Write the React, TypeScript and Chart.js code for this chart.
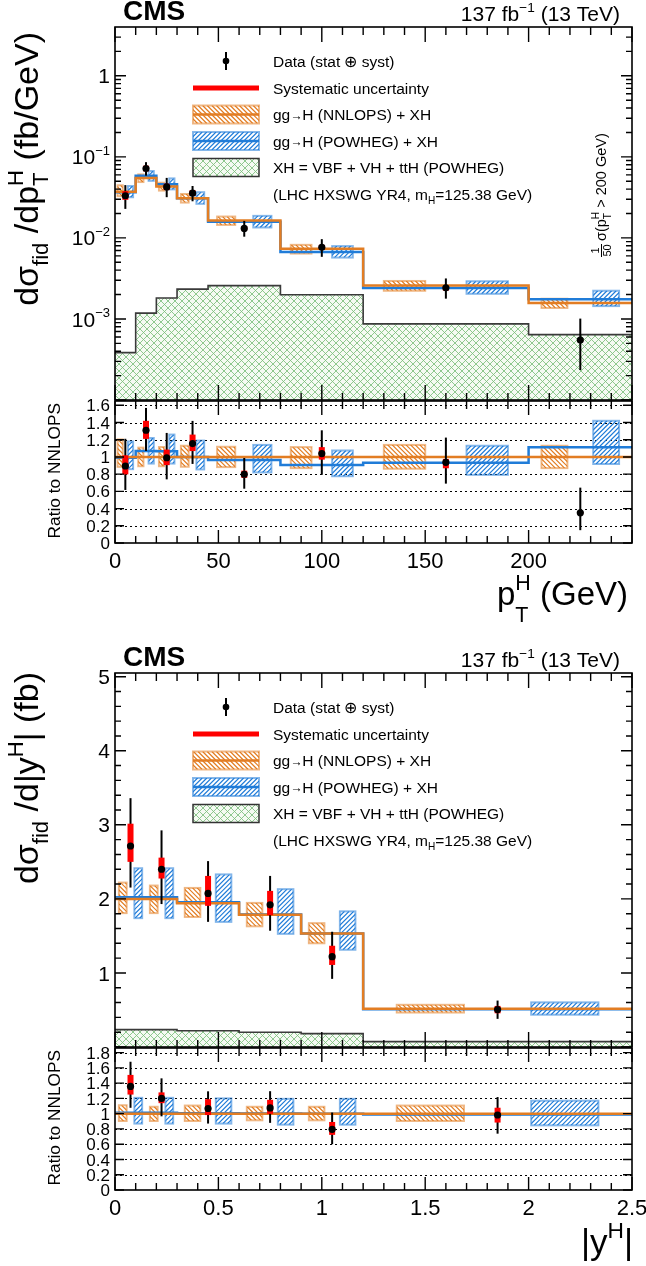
import React, { useEffect, useRef } from 'react';
import { Chart, registerables } from 'chart.js';

Chart.register(...registerables);

const FONT = '"Liberation Sans", Arial, Helvetica, sans-serif';
const ORANGE = 'rgb(226,125,35)';
const ORANGE_EDGE = 'rgba(226,125,35,0.55)';
const BLUE = 'rgb(32,124,216)';
const BLUE_EDGE = 'rgba(32,124,216,0.55)';
const RED = '#ff0000';

// ---------------- pT(H) distribution ----------------
const ptEdges = [0, 10, 20, 30, 45, 80, 120, 200, 250];
const ptCenters = [5, 15, 25, 37.5, 62.5, 100, 160, 225];
const ptNnlops = [0.037, 0.0548, 0.043, 0.0308, 0.0164, 0.00737, 0.00258, 0.00157];
const ptPowhegRatio = [0.99, 1.07, 1.067, 1.0, 0.965, 0.906, 0.933, 1.114];
const ptXH = [0.000384, 0.00118, 0.00181, 0.00233, 0.00258, 0.00199, 0.00087, 0.00064];
const ptData = [0.0331, 0.0718, 0.0426, 0.0356, 0.0131, 0.00766, 0.00242, 0.00055];
const ptTotLo = [0.0228, 0.0586, 0.0318, 0.0283, 0.01035, 0.00584, 0.00178, 0.000234];
const ptTotHi = [0.0448, 0.086, 0.055, 0.0437, 0.0162, 0.00965, 0.00316, 0.00101];
const ptSysLo = [0.0295, 0.0663, 0.0389, 0.0329, 0.01241, 0.00714, 0.00224, 0.000534];
const ptSysHi = [0.0377, 0.0778, 0.0467, 0.0388, 0.01378, 0.00821, 0.00252, 0.000565];
// theory uncertainty boxes, as ratio to NNLOPS
const ptNnlopsUncLo = [0.885, 0.892, 0.892, 0.886, 0.882, 0.87, 0.863, 0.87];
const ptNnlopsUncHi = [1.204, 1.108, 1.115, 1.13, 1.118, 1.114, 1.14, 1.13];
const ptPowhegUncLo = [0.858, 0.923, 0.923, 0.855, 0.82, 0.776, 0.792, 0.918];
const ptPowhegUncHi = [1.18, 1.22, 1.26, 1.19, 1.14, 1.075, 1.13, 1.42];

// ---------------- |y(H)| distribution ----------------
const yEdges = [0, 0.15, 0.3, 0.6, 0.9, 1.2, 2.5];
const yCenters = [0.075, 0.225, 0.45, 0.75, 1.05, 1.85];
const yNnlops = [2.0, 2.0, 1.942, 1.785, 1.534, 0.515];
const yPowhegRatio = [1.011, 1.011, 1.006, 1.003, 1.0, 0.988];
const yXH = [0.235, 0.235, 0.22, 0.2, 0.18, 0.072];
const yData = [2.714, 2.4, 2.073, 1.92, 1.22, 0.506];
const yTotLo = [2.153, 1.93, 1.69, 1.57, 0.92, 0.38];
const yTotHi = [3.36, 2.925, 2.51, 2.31, 1.556, 0.627];
const ySysLo = [2.5, 2.275, 1.906, 1.78, 1.108, 0.455];
const ySysHi = [3.015, 2.557, 2.31, 2.108, 1.367, 0.555];
const yNnlopsUncLo = [0.904, 0.904, 0.904, 0.913, 0.913, 0.904];
const yNnlopsUncHi = [1.11, 1.09, 1.106, 1.09, 1.09, 1.106];
const yPowhegUncLo = [0.87, 0.87, 0.87, 0.856, 0.856, 0.847];
const yPowhegUncHi = [1.207, 1.207, 1.2, 1.194, 1.194, 1.17];

// ---------------- tick labels ----------------
const ptXTickValues = [0, 50, 100, 150, 200];
const ptXTickLabels = ['0', '50', '100', '150', '200'];
const ptMainTickValues = [1e-3, 1e-2, 1e-1, 1];
const ptMainTickLabels = ['10^{-3}', '10^{-2}', '10^{-1}', '1'];
const ptRatioTickValues = [0, 0.2, 0.4, 0.6, 0.8, 1, 1.2, 1.4, 1.6];
const ptRatioTickLabels = ['0', '0.2', '0.4', '0.6', '0.8', '1', '1.2', '1.4', '1.6'];
const yXTickValues = [0, 0.5, 1, 1.5, 2, 2.5];
const yXTickLabels = ['0', '0.5', '1', '1.5', '2', '2.5'];
const yMainTickValues = [1, 2, 3, 4, 5];
const yMainTickLabels = ['1', '2', '3', '4', '5'];
const yRatioTickValues = [0, 0.2, 0.4, 0.6, 0.8, 1, 1.2, 1.4, 1.6, 1.8];
const yRatioTickLabels = ['0', '0.2', '0.4', '0.6', '0.8', '1', '1.2', '1.4', '1.6', '1.8'];

// ---------------- texts ----------------
const legendLabels = [
  'Data (stat ⊕ syst)',
  'Systematic uncertainty',
  'gg→H (NNLOPS) + XH',
  'gg→H (POWHEG) + XH',
  'XH = VBF + VH + ttH (POWHEG)',
  '(LHC HXSWG YR4, m_{H}=125.38 GeV)',
];
const cmsText = 'CMS';
const lumiText = '137 fb^{-1} (13 TeV)';
const ptYTitle = 'dσ_{fid} /dp^{H}_{T} (fb/GeV)';
const ptXTitle = 'p^{H}_{T} (GeV)';
const yYTitle = 'dσ_{fid} /d|y^{H}| (fb)';
const yXTitle = '|y^{H}|';
const ratioTitle = 'Ratio to NNLOPS';
const annotNum = '1';
const annotDen = '50';
const annotText = 'σ(p^{H}_{T} > 200 GeV)';

// ---------------- helpers ----------------
type Seg = { t: string; f?: number; dy?: number; b?: boolean; keep?: boolean };

function splitArrows(segs: Seg[]): Seg[] {
  const out: Seg[] = [];
  segs.forEach((s) => {
    if (!s.t.includes('→')) { out.push(s); return; }
    const parts = s.t.split('→');
    parts.forEach((pt, k) => {
      if (pt) out.push({ ...s, t: pt, keep: false });
      if (k < parts.length - 1) out.push({ ...s, t: '→', f: (s.f ?? 1) * 0.78, dy: (s.dy ?? 0) - 0.03, keep: false });
    });
  });
  return out;
}

function tex(s: string, subDy = 0.3, supDy = -0.45, f = 0.65, bold = false): Seg[] {
  const out: Seg[] = [];
  let i = 0;
  let buf = '';
  while (i < s.length) {
    const ch = s[i];
    if ((ch === '^' || ch === '_') && s[i + 1] === '{') {
      if (buf) { out.push({ t: buf, b: bold }); buf = ''; }
      const j = s.indexOf('}', i);
      const t = s.slice(i + 2, j).replace('-', '−');
      const seg: Seg = { t, f, dy: ch === '^' ? supDy : subDy, b: bold };
      const nxt = s[j + 1];
      if ((nxt === '^' || nxt === '_') && s[j + 2] === '{') seg.keep = true;
      out.push(seg);
      i = j + 1;
    } else {
      buf += ch;
      i++;
    }
  }
  if (buf) out.push({ t: buf, b: bold });
  return splitArrows(out);
}

function rich(ctx: CanvasRenderingContext2D, segs: Seg[], x: number, y: number, size: number,
  align: 'left' | 'right' | 'center' = 'left', rot = 0) {
  ctx.save();
  ctx.translate(x, y);
  if (rot) ctx.rotate(rot);
  ctx.textAlign = 'left';
  ctx.textBaseline = 'alphabetic';
  ctx.fillStyle = '#000';
  const fonts = segs.map((s) => `${s.b ? 'bold ' : ''}${(s.f ?? 1) * size}px ${FONT}`);
  const widths = segs.map((s, i) => { ctx.font = fonts[i]; return ctx.measureText(s.t).width; });
  const adv: number[] = [];
  let pending = 0;
  segs.forEach((s, i) => {
    if (s.keep) { adv.push(0); pending = widths[i]; } else { adv.push(Math.max(widths[i], pending)); pending = 0; }
  });
  const total = adv.reduce((a, b) => a + b, 0);
  let cx = align === 'left' ? 0 : align === 'right' ? -total : -total / 2;
  segs.forEach((s, i) => {
    ctx.font = fonts[i];
    ctx.fillText(s.t, cx, (s.dy ?? 0) * size);
    cx += adv[i];
  });
  ctx.restore();
}

function range(a: number, b: number, step: number) {
  const out: number[] = [];
  const n = Math.round((b - a) / step);
  for (let i = 0; i <= n; i++) out.push(+(a + i * step).toFixed(6));
  return out;
}

function logMinor(lo: number, hi: number) {
  const out: number[] = [];
  for (let e = Math.floor(Math.log10(lo)); e <= Math.ceil(Math.log10(hi)); e++) {
    for (let k = 2; k <= 9; k++) {
      const v = k * Math.pow(10, e);
      if (v > lo && v < hi) out.push(v);
    }
  }
  return out;
}

function hist(edges: number[], vals: number[]) {
  const pts = vals.map((v, i) => ({ x: edges[i], y: v }));
  pts.push({ x: edges[edges.length - 1], y: vals[vals.length - 1] });
  return pts;
}

function hatchBox(ctx: CanvasRenderingContext2D, x0: number, x1: number, y0: number, y1: number,
  color: string, edge: string, dir: number) {
  const h = y1 - y0;
  ctx.save();
  ctx.beginPath();
  ctx.rect(x0, y0, x1 - x0, h);
  ctx.clip();
  ctx.strokeStyle = color;
  ctx.lineWidth = 1.2;
  ctx.beginPath();
  const step = 4.6;
  for (let s = x0 - h - step; s < x1 + step; s += step) {
    if (dir > 0) { ctx.moveTo(s, y1); ctx.lineTo(s + h, y0); } else { ctx.moveTo(s, y0); ctx.lineTo(s + h, y1); }
  }
  ctx.stroke();
  ctx.restore();
  ctx.save();
  ctx.strokeStyle = edge;
  ctx.lineWidth = 2;
  ctx.strokeRect(x0, y0, x1 - x0, h);
  ctx.restore();
}

function makeCross(size = 7): CanvasPattern | string {
  const c = document.createElement('canvas');
  c.width = size; c.height = size;
  const g = c.getContext('2d');
  if (!g) return 'rgba(150,200,150,0.4)';
  g.fillStyle = '#f5faf3';
  g.fillRect(0, 0, size, size);
  g.strokeStyle = 'rgba(125,190,125,0.85)';
  g.lineWidth = 1;
  g.beginPath();
  g.moveTo(0, 0); g.lineTo(size, size);
  g.moveTo(size, 0); g.lineTo(0, size);
  g.stroke();
  return g.createPattern(c, 'repeat') || 'rgba(150,200,150,0.4)';
}

type Ticks = { major: number[]; minor: number[] };
type TickLen = { xBotMaj: number; xBotMin: number; xTopMaj: number; xTopMin: number; yMaj: number; yMin: number };
type Panel = {
  top: number; height: number;
  pad: { left: number; right: number; top: number; bottom: number };
  xMin: number; xMax: number; yMin: number; yMax: number; log: boolean;
  edges: number[]; centers: number[];
  base: number[]; nLo: number[]; nHi: number[]; pLo: number[]; pHi: number[];
  val: number[]; totLo: number[]; totHi: number[]; sysLo: number[]; sysHi: number[];
  nnlopsLine: number[]; powhegLine: number[]; xh?: number[];
  xt: Ticks; yt: Ticks; tl: TickLen; dotted?: number[];
  decorate: (ctx: CanvasRenderingContext2D, chart: any, cross: any) => void;
};

function drawLegend(ctx: CanvasRenderingContext2D, a: any, cross: any) {
  const offs = [34, 61, 87.5, 114, 140.5, 167];
  const ys = offs.map((o) => a.top + o);
  const x0 = 193, x1 = 259, xm = 226, xt = 273;
  ctx.save();
  ctx.strokeStyle = '#000';
  ctx.lineWidth = 2;
  ctx.beginPath(); ctx.moveTo(xm, ys[0] - 9); ctx.lineTo(xm, ys[0] + 9); ctx.stroke();
  ctx.fillStyle = '#000';
  ctx.beginPath(); ctx.arc(xm, ys[0], 3.3, 0, Math.PI * 2); ctx.fill();
  ctx.fillStyle = RED;
  ctx.fillRect(x0, ys[1] - 2.5, x1 - x0, 5);
  hatchBox(ctx, x0, x1, ys[2] - 9, ys[2] + 9, ORANGE, ORANGE_EDGE, -1);
  ctx.strokeStyle = ORANGE; ctx.lineWidth = 2.5;
  ctx.beginPath(); ctx.moveTo(x0, ys[2]); ctx.lineTo(x1, ys[2]); ctx.stroke();
  hatchBox(ctx, x0, x1, ys[3] - 9, ys[3] + 9, BLUE, BLUE_EDGE, 1);
  ctx.strokeStyle = BLUE; ctx.lineWidth = 2.5;
  ctx.beginPath(); ctx.moveTo(x0, ys[3]); ctx.lineTo(x1, ys[3]); ctx.stroke();
  ctx.fillStyle = cross;
  ctx.fillRect(x0, ys[4] - 9, x1 - x0, 18);
  ctx.strokeStyle = '#333'; ctx.lineWidth = 1.5;
  ctx.strokeRect(x0, ys[4] - 9, x1 - x0, 18);
  ctx.restore();
  legendLabels.forEach((l, i) => rich(ctx, tex(l, 0.3), xt, ys[i] + 5.5, 15.5, 'left'));
}

function drawHeader(ctx: CanvasRenderingContext2D, a: any) {
  rich(ctx, [{ t: cmsText, b: true }], a.left + 8, a.top - 7, 28, 'left');
  rich(ctx, tex(lumiText, 0.3, -0.42, 0.65), a.right - 12, a.top - 6.5, 21, 'right');
}

function yLabels(ctx: CanvasRenderingContext2D, chart: any, vals: number[], labels: string[], size: number) {
  const a = chart.chartArea;
  const sy = chart.scales.y;
  vals.forEach((v, i) => {
    const py = sy.getPixelForValue(v);
    rich(ctx, tex(labels[i], 0.3, -0.45, 0.62), a.left - 5, py + size * 0.36, size, 'right');
  });
}

function xLabels(ctx: CanvasRenderingContext2D, chart: any, vals: number[], labels: string[], size: number) {
  const a = chart.chartArea;
  const sx = chart.scales.x;
  vals.forEach((v, i) => {
    rich(ctx, [{ t: labels[i] }], sx.getPixelForValue(v), a.bottom + 25, size, 'center');
  });
}

function panelPlugin(p: Panel, cross: any) {
  return {
    id: 'panelDeco',
    beforeDatasetsDraw(chart: any) {
      if (!p.dotted) return;
      const { ctx, chartArea: a, scales } = chart;
      ctx.save();
      ctx.strokeStyle = '#000';
      ctx.lineWidth = 1;
      ctx.setLineDash([2, 3]);
      for (const v of p.dotted) {
        const py = Math.round(scales.y.getPixelForValue(v)) + 0.5;
        ctx.beginPath(); ctx.moveTo(a.left, py); ctx.lineTo(a.right, py); ctx.stroke();
      }
      ctx.restore();
    },
    beforeDatasetDraw(chart: any, args: any) {
      const { ctx, chartArea: a, scales } = chart;
      const sx = scales.x, sy = scales.y;
      if (args.index === 2) {
        ctx.save();
        ctx.beginPath(); ctx.rect(a.left, a.top, a.right - a.left, a.bottom - a.top); ctx.clip();
        p.base.forEach((b, i) => {
          const e0 = p.edges[i];
          const w = p.edges[i + 1] - e0;
          hatchBox(ctx, sx.getPixelForValue(e0 + w * 0.125), sx.getPixelForValue(e0 + w * 0.375),
            sy.getPixelForValue(b * p.nHi[i]), sy.getPixelForValue(b * p.nLo[i]), ORANGE, ORANGE_EDGE, -1);
          hatchBox(ctx, sx.getPixelForValue(e0 + w * 0.625), sx.getPixelForValue(e0 + w * 0.875),
            sy.getPixelForValue(b * p.pHi[i]), sy.getPixelForValue(b * p.pLo[i]), BLUE, BLUE_EDGE, 1);
        });
        ctx.restore();
      }
      if (args.index === 0) {
        ctx.save();
        ctx.beginPath(); ctx.rect(a.left, a.top, a.right - a.left, a.bottom - a.top); ctx.clip();
        p.centers.forEach((c, i) => {
          const px = sx.getPixelForValue(c);
          ctx.strokeStyle = '#000';
          ctx.lineWidth = 2;
          ctx.beginPath();
          ctx.moveTo(px, sy.getPixelForValue(p.totLo[i]));
          ctx.lineTo(px, sy.getPixelForValue(p.totHi[i]));
          ctx.stroke();
          const y1 = sy.getPixelForValue(p.sysHi[i]);
          const y2 = sy.getPixelForValue(p.sysLo[i]);
          ctx.fillStyle = RED;
          ctx.fillRect(px - 3, y1, 6, Math.max(1, y2 - y1));
        });
        ctx.restore();
      }
    },
    afterDraw(chart: any) {
      const { ctx, chartArea: a, scales } = chart;
      const sx = scales.x, sy = scales.y;
      ctx.save();
      ctx.strokeStyle = '#000';
      ctx.lineWidth = 1.4;
      ctx.beginPath();
      const majX = new Set(p.xt.major.map((v) => v.toFixed(5)));
      for (const v of p.xt.minor) {
        if (majX.has(v.toFixed(5))) continue;
        const px = sx.getPixelForValue(v);
        ctx.moveTo(px, a.bottom); ctx.lineTo(px, a.bottom - p.tl.xBotMin);
        ctx.moveTo(px, a.top); ctx.lineTo(px, a.top + p.tl.xTopMin);
      }
      for (const v of p.xt.major) {
        const px = sx.getPixelForValue(v);
        ctx.moveTo(px, a.bottom); ctx.lineTo(px, a.bottom - p.tl.xBotMaj);
        ctx.moveTo(px, a.top); ctx.lineTo(px, a.top + p.tl.xTopMaj);
      }
      for (const v of p.yt.minor) {
        const py = sy.getPixelForValue(v);
        ctx.moveTo(a.left, py); ctx.lineTo(a.left + p.tl.yMin, py);
        ctx.moveTo(a.right, py); ctx.lineTo(a.right - p.tl.yMin, py);
      }
      for (const v of p.yt.major) {
        const py = sy.getPixelForValue(v);
        ctx.moveTo(a.left, py); ctx.lineTo(a.left + p.tl.yMaj, py);
        ctx.moveTo(a.right, py); ctx.lineTo(a.right - p.tl.yMaj, py);
      }
      ctx.stroke();
      ctx.lineWidth = 1.6;
      ctx.strokeRect(a.left, a.top, a.right - a.left, a.bottom - a.top);
      ctx.restore();
      p.decorate(ctx, chart, cross);
    },
  };
}

function buildChart(canvas: HTMLCanvasElement, p: Panel, cross: any) {
  const datasets: any[] = [
    {
      type: 'scatter', data: p.centers.map((x, i) => ({ x, y: p.val[i] })), showLine: false,
      pointRadius: 3.6, pointBackgroundColor: '#000', pointBorderWidth: 0, order: 0,
    },
    {
      type: 'line', data: hist(p.edges, p.nnlopsLine), showLine: true, stepped: true, fill: false,
      borderColor: ORANGE, borderWidth: 2.5, pointRadius: 0, order: 1,
    },
    {
      type: 'line', data: hist(p.edges, p.powhegLine), showLine: true, stepped: true, fill: false,
      borderColor: BLUE, borderWidth: 2.5, pointRadius: 0, order: 2,
    },
  ];
  if (p.xh) {
    datasets.push({
      type: 'line', data: hist(p.edges, p.xh), showLine: true, stepped: true, fill: 'start',
      borderColor: '#3a3a3a', borderWidth: 1.6, backgroundColor: cross, pointRadius: 0, order: 3,
    });
  }
  return new Chart(canvas, {
    type: 'scatter',
    data: { datasets },
    options: {
      animation: false,
      responsive: false,
      maintainAspectRatio: false,
      devicePixelRatio: 1,
      events: [],
      layout: { padding: p.pad },
      plugins: { legend: { display: false }, tooltip: { enabled: false } },
      scales: {
        x: { type: 'linear', min: p.xMin, max: p.xMax, display: false },
        y: { type: p.log ? 'logarithmic' : 'linear', min: p.yMin, max: p.yMax, display: false },
      },
    },
    plugins: [panelPlugin(p, cross)],
  } as any);
}

const ptOnes = ptNnlops.map(() => 1);
const yOnes = yNnlops.map(() => 1);
const div = (arr: number[], by: number[]) => arr.map((v, i) => v / by[i]);

const PAD = { left: 115, right: 14 };

const panels: Panel[] = [
  {
    top: 0, height: 404, pad: { ...PAD, top: 27, bottom: 3 },
    xMin: 0, xMax: 250, yMin: 1e-4, yMax: 4, log: true,
    edges: ptEdges, centers: ptCenters,
    base: ptNnlops, nLo: ptNnlopsUncLo, nHi: ptNnlopsUncHi, pLo: ptPowhegUncLo, pHi: ptPowhegUncHi,
    val: ptData, totLo: ptTotLo, totHi: ptTotHi, sysLo: ptSysLo, sysHi: ptSysHi,
    nnlopsLine: ptNnlops, powhegLine: ptNnlops.map((v, i) => v * ptPowhegRatio[i]), xh: ptXH,
    xt: { major: range(0, 250, 50), minor: range(0, 250, 10) },
    yt: { major: [1e-4, 1e-3, 1e-2, 1e-1, 1], minor: logMinor(1e-4, 4) },
    tl: { xBotMaj: 15, xBotMin: 7, xTopMaj: 15, xTopMin: 8, yMaj: 11, yMin: 6 },
    decorate: (ctx, chart, cross) => {
      const a = chart.chartArea;
      drawHeader(ctx, a);
      drawLegend(ctx, a, cross);
      yLabels(ctx, chart, ptMainTickValues, ptMainTickLabels, 21);
      rich(ctx, tex(ptYTitle, 0.3, -0.45), 38, a.top + 5, 34, 'right', -Math.PI / 2);
      // 1/50 sigma annotation
      ctx.save();
      ctx.translate(a.right - 26, a.top + 230);
      ctx.rotate(-Math.PI / 2);
      ctx.fillStyle = '#000';
      ctx.textAlign = 'center';
      ctx.font = `11px ${FONT}`;
      ctx.fillText(annotNum, 6.5, -7);
      ctx.fillText(annotDen, 6.5, 5);
      ctx.strokeStyle = '#000'; ctx.lineWidth = 1;
      ctx.beginPath(); ctx.moveTo(0, -4.5); ctx.lineTo(13, -4.5); ctx.stroke();
      ctx.restore();
      ctx.save();
      ctx.translate(a.right - 26, a.top + 230);
      ctx.rotate(-Math.PI / 2);
      rich(ctx, tex(annotText, 0.35, -0.45, 0.7), 16, 0, 14.5, 'left');
      ctx.restore();
    },
  },
  {
    top: 380, height: 260, pad: { ...PAD, top: 21, bottom: 97 },
    xMin: 0, xMax: 250, yMin: 0, yMax: 1.65, log: false,
    edges: ptEdges, centers: ptCenters,
    base: ptOnes, nLo: ptNnlopsUncLo, nHi: ptNnlopsUncHi, pLo: ptPowhegUncLo, pHi: ptPowhegUncHi,
    val: div(ptData, ptNnlops), totLo: div(ptTotLo, ptNnlops), totHi: div(ptTotHi, ptNnlops),
    sysLo: div(ptSysLo, ptNnlops), sysHi: div(ptSysHi, ptNnlops),
    nnlopsLine: ptOnes, powhegLine: ptPowhegRatio,
    xt: { major: range(0, 250, 50), minor: range(0, 250, 10) },
    yt: { major: ptRatioTickValues, minor: [] },
    tl: { xBotMaj: 13, xBotMin: 7, xTopMaj: 14, xTopMin: 8, yMaj: 9, yMin: 5 },
    dotted: ptRatioTickValues.filter((v) => v > 0),
    decorate: (ctx, chart) => {
      const a = chart.chartArea;
      yLabels(ctx, chart, ptRatioTickValues, ptRatioTickLabels, 17);
      xLabels(ctx, chart, ptXTickValues, ptXTickLabels, 22);
      rich(ctx, tex(ptXTitle, 0.5, -0.45), a.right - 4, a.bottom + 62, 33, 'right');
      rich(ctx, [{ t: ratioTitle }], 60, a.top + 2, 17.3, 'right', -Math.PI / 2);
    },
  },
  {
    top: 640, height: 411, pad: { ...PAD, top: 33, bottom: 3 },
    xMin: 0, xMax: 2.5, yMin: 0, yMax: 5.05, log: false,
    edges: yEdges, centers: yCenters,
    base: yNnlops, nLo: yNnlopsUncLo, nHi: yNnlopsUncHi, pLo: yPowhegUncLo, pHi: yPowhegUncHi,
    val: yData, totLo: yTotLo, totHi: yTotHi, sysLo: ySysLo, sysHi: ySysHi,
    nnlopsLine: yNnlops, powhegLine: yNnlops.map((v, i) => v * yPowhegRatio[i]), xh: yXH,
    xt: { major: range(0, 2.5, 0.5), minor: range(0, 2.5, 0.1) },
    yt: { major: range(0, 5, 1), minor: range(0, 5, 0.2) },
    tl: { xBotMaj: 15, xBotMin: 7, xTopMaj: 15, xTopMin: 8, yMaj: 11, yMin: 6 },
    decorate: (ctx, chart, cross) => {
      const a = chart.chartArea;
      drawHeader(ctx, a);
      drawLegend(ctx, a, cross);
      yLabels(ctx, chart, yMainTickValues, yMainTickLabels, 21);
      rich(ctx, tex(yYTitle, 0.3, -0.45), 38, a.top - 1, 34, 'right', -Math.PI / 2);
    },
  },
  {
    top: 1025, height: 241, pad: { ...PAD, top: 23, bottom: 76 },
    xMin: 0, xMax: 2.5, yMin: 0, yMax: 1.86, log: false,
    edges: yEdges, centers: yCenters,
    base: yOnes, nLo: yNnlopsUncLo, nHi: yNnlopsUncHi, pLo: yPowhegUncLo, pHi: yPowhegUncHi,
    val: div(yData, yNnlops), totLo: div(yTotLo, yNnlops), totHi: div(yTotHi, yNnlops),
    sysLo: div(ySysLo, yNnlops), sysHi: div(ySysHi, yNnlops),
    nnlopsLine: yOnes, powhegLine: yPowhegRatio,
    xt: { major: range(0, 2.5, 0.5), minor: range(0, 2.5, 0.1) },
    yt: { major: yRatioTickValues, minor: [] },
    tl: { xBotMaj: 13, xBotMin: 7, xTopMaj: 14, xTopMin: 8, yMaj: 9, yMin: 5 },
    dotted: yRatioTickValues.filter((v) => v > 0),
    decorate: (ctx, chart) => {
      const a = chart.chartArea;
      yLabels(ctx, chart, yRatioTickValues, yRatioTickLabels, 17);
      xLabels(ctx, chart, yXTickValues, yXTickLabels, 22);
      rich(ctx, tex(yXTitle, 0.5, -0.45), a.right + 1, a.bottom + 64, 35, 'right');
      rich(ctx, [{ t: ratioTitle }], 60, a.top + 2, 17.3, 'right', -Math.PI / 2);
    },
  },
];

export default function App() {
  const refs = [useRef<HTMLCanvasElement>(null), useRef<HTMLCanvasElement>(null),
    useRef<HTMLCanvasElement>(null), useRef<HTMLCanvasElement>(null)];
  useEffect(() => {
    document.body.style.margin = '0';
    const cross = makeCross(7);
    const charts: Chart[] = [];
    panels.forEach((p, i) => {
      const c = refs[i].current;
      if (c) charts.push(buildChart(c, p, cross));
    });
    return () => charts.forEach((c) => c.destroy());
  }, []);
  return (
    <div style={{ position: 'absolute', left: 0, top: 0, width: 646, height: 1266, background: '#fff', overflow: 'hidden' }}>
      {panels.map((p, i) => (
        <canvas
          key={i}
          ref={refs[i]}
          width={646}
          height={p.height}
          style={{ position: 'absolute', left: 0, top: p.top, width: 646, height: p.height }}
        />
      ))}
    </div>
  );
}
